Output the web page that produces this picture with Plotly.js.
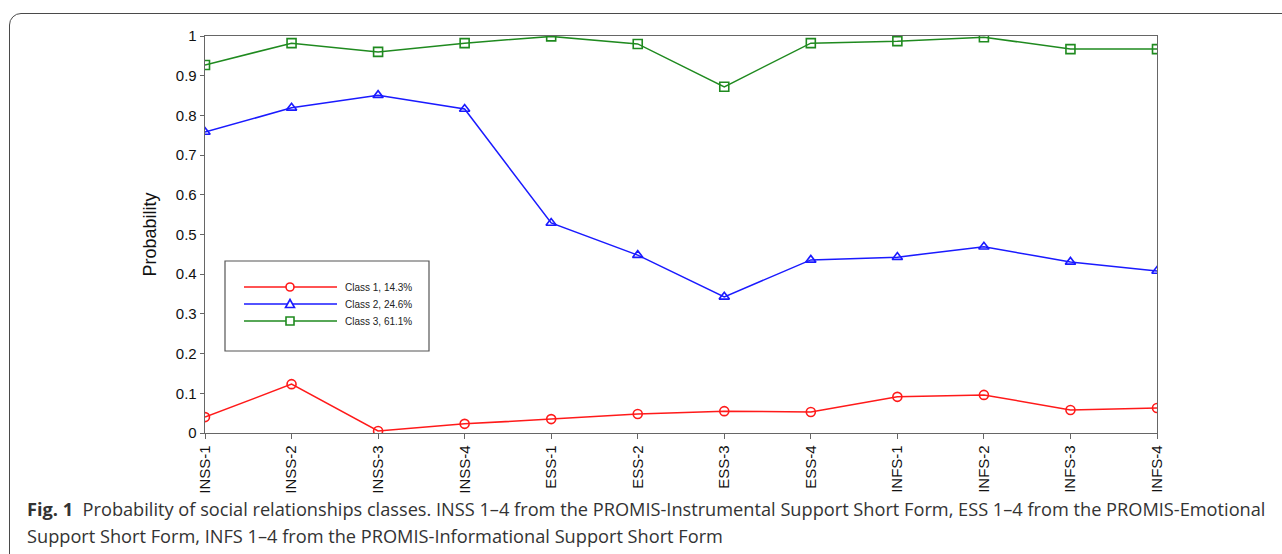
<!DOCTYPE html>
<html>
<head>
<meta charset="utf-8">
<script src="https://cdn.plot.ly/plotly-3.0.1.min.js"></script>
<style>
  html, body { margin: 0; padding: 0; background: #fff; }
  #wrap { position: relative; width: 1282px; height: 554px; overflow: hidden; }
  #frame { position: absolute; left: 9px; top: 13px; width: 1320px; height: 580px;
           border: 1.5px solid #4a4a4a; border-radius: 12px; box-sizing: border-box; }
  #chart { position: absolute; left: 0; top: 0; width: 1282px; height: 554px; }
</style>
</head>
<body>
<div id="wrap">
  <div id="frame"></div>
  <div id="chart"></div>
</div>
<script>
const categories = ["INSS-1","INSS-2","INSS-3","INSS-4","ESS-1","ESS-2","ESS-3","ESS-4","INFS-1","INFS-2","INFS-3","INFS-4"];
const class1 = [0.040, 0.123, 0.005, 0.023, 0.035, 0.048, 0.055, 0.053, 0.091, 0.096, 0.058, 0.063];
const class2 = [0.758, 0.819, 0.851, 0.816, 0.529, 0.448, 0.343, 0.436, 0.443, 0.469, 0.431, 0.408];
const class3 = [0.927, 0.982, 0.960, 0.982, 0.999, 0.980, 0.872, 0.982, 0.987, 0.997, 0.967, 0.967];
const seriesNames = ["Class 1, 14.3%", "Class 2, 24.6%", "Class 3, 61.1%"];
const yTicks = [0, 0.1, 0.2, 0.3, 0.4, 0.5, 0.6, 0.7, 0.8, 0.9, 1];
const yTickText = ["0", "0.1", "0.2", "0.3", "0.4", "0.5", "0.6", "0.7", "0.8", "0.9", "1"];
const yTitle = "Probability";
const captionLine1 = "<b>Fig. 1</b>  Probability of social relationships classes. INSS 1–4 from the PROMIS-Instrumental Support Short Form, ESS 1–4 from the PROMIS-Emotional";
const captionLine2 = "Support Short Form, INFS 1–4 from the PROMIS-Informational Support Short Form";

const colors = ["#ff1a1a", "#1a1aff", "#1f8a1f"];
const symbols = ["circle-open", "triangle-up-open", "square-open"];
const data = [class1, class2, class3].map((vals, i) => ({
  type: "scatter", mode: "lines+markers",
  x: categories, y: vals, name: seriesNames[i],
  line: { color: colors[i], width: 1.5 },
  marker: { symbol: symbols[i], size: 9, color: colors[i], line: { width: 1.6, color: colors[i] } },
  cliponaxis: true, showlegend: false
}));

const W = 1282, H = 554, L = 205, R = 1157, T = 36, B = 433;
const px = v => (v - L) / (R - L);
const py = v => (B - v) / (B - T);
const AF = "Liberation Sans, Arial, sans-serif";

// custom legend (long sample lines, as in the original figure)
const shapes = [
  { type: "rect", xref: "paper", yref: "paper", x0: px(225), x1: px(429), y0: py(351), y1: py(261),
    line: { color: "#555", width: 1.2 }, fillcolor: "rgba(0,0,0,0)" }
];
const annotations = [];
seriesNames.forEach((nm, i) => {
  const yy = 287 + 17 * i;
  shapes.push({ type: "line", xref: "paper", yref: "paper", x0: px(244), x1: px(337), y0: py(yy), y1: py(yy),
                line: { color: colors[i], width: 1.5 } });
  if (i === 0) {
    shapes.push({ type: "circle", xref: "paper", yref: "paper", x0: px(286), x1: px(294), y0: py(yy + 4), y1: py(yy - 4),
                  line: { color: colors[i], width: 1.6 }, fillcolor: "#fff" });
  } else if (i === 1) {
    shapes.push({ type: "path", xref: "paper", yref: "paper",
                  path: `M ${px(285.5)} ${py(yy + 3.5)} L ${px(294.5)} ${py(yy + 3.5)} L ${px(290)} ${py(yy - 4.5)} Z`,
                  line: { color: colors[i], width: 1.6 }, fillcolor: "#fff" });
  } else {
    shapes.push({ type: "rect", xref: "paper", yref: "paper", x0: px(286), x1: px(294), y0: py(yy + 4), y1: py(yy - 4),
                  line: { color: colors[i], width: 1.6 }, fillcolor: "#fff" });
  }
  annotations.push({ xref: "paper", yref: "paper", x: px(343), y: py(yy), xanchor: "left", yanchor: "middle",
                     text: nm, showarrow: false, font: { size: 10, family: AF, color: "#222" } });
});
annotations.push(
  { xref: "paper", yref: "paper", x: px(25), y: py(509), xanchor: "left", yanchor: "middle",
    text: captionLine1, showarrow: false, align: "left",
    font: { size: 18.2, family: "Open Sans, Noto Sans, sans-serif", color: "#333" } },
  { xref: "paper", yref: "paper", x: px(25), y: py(536), xanchor: "left", yanchor: "middle",
    text: captionLine2, showarrow: false, align: "left",
    font: { size: 18.2, family: "Open Sans, Noto Sans, sans-serif", color: "#333" } }
);

const layout = {
  width: W, height: H,
  margin: { l: L, r: W - R, t: T, b: H - B },
  paper_bgcolor: "rgba(0,0,0,0)", plot_bgcolor: "rgba(0,0,0,0)",
  showlegend: false,
  font: { family: AF, color: "#111" },
  xaxis: {
    type: "category", range: [0, categories.length - 1],
    showline: true, linecolor: "#666", linewidth: 1.3, mirror: true,
    ticks: "outside", ticklen: 5, tickcolor: "#666", tickangle: -90,
    tickfont: { size: 15, family: AF, color: "#111" },
    showgrid: false, zeroline: false
  },
  yaxis: {
    range: [0, 1], tickvals: yTicks, ticktext: yTickText,
    showline: true, linecolor: "#666", linewidth: 1.3, mirror: true,
    ticks: "outside", ticklen: 4, tickcolor: "#666",
    tickfont: { size: 15, family: AF, color: "#111" },
    showgrid: false, zeroline: false,
    title: { text: yTitle, font: { size: 18, family: AF, color: "#111" }, standoff: 14 }
  },
  shapes: shapes,
  annotations: annotations
};

Plotly.newPlot("chart", data, layout, { displayModeBar: false, staticPlot: true });
</script>
</body>
</html>
